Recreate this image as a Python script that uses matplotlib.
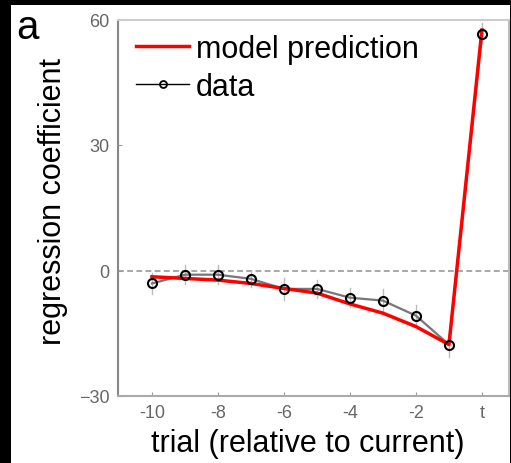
import matplotlib
matplotlib.use('Agg')
import matplotlib.pyplot as plt
from matplotlib.lines import Line2D
from matplotlib.patches import Rectangle

plt.rcParams['font.family'] = ['Liberation Sans', 'DejaVu Sans']

# trials relative to current (0 = current trial "t")
trials = [-10, -9, -8, -7, -6, -5, -4, -3, -2, -1, 0]
data_coef = [-3.1, -1.0, -1.0, -2.0, -4.4, -4.4, -6.5, -7.2, -10.8, -17.7, 56.6]
data_err = [2.5, 2.3, 2.3, 2.0, 2.6, 2.2, 2.2, 2.8, 2.5, 3.0, 2.5]
model_coef = [-1.5, -1.9, -2.3, -3.1, -4.3, -5.4, -8.0, -10.2, -13.4, -17.7, 57.5]

xtick_vals = [-10, -8, -6, -4, -2, 0]
xtick_labels = ['-10', '-8', '-6', '-4', '-2', 't']
ytick_vals = [-30, 0, 30, 60]

W, H = 511, 464
fig = plt.figure(figsize=(W / 100, H / 100), dpi=100, facecolor='black')
# white panel on the black background
fig.patches.append(Rectangle((11 / W, 0), 499 / W, 458 / H, transform=fig.transFigure,
                             facecolor='white', edgecolor='none', zorder=-10))

ax = fig.add_axes([118 / W, 1 - 397 / H, 391 / W, 376.5 / H])
ax.set_facecolor('white')

ax.axhline(0, color='#999999', lw=1.2, ls=(0, (3.5, 2)), zorder=1)

# error bars
for x, y, e in zip(trials, data_coef, data_err):
    ax.plot([x, x], [y - e, y + e], color='#bbbbbb', lw=1, zorder=2)

ax.plot(trials, data_coef, color='#777777', lw=1.6, zorder=3)
ax.plot(trials, model_coef, color='#ff0000', lw=2.5, zorder=4)
ax.plot(trials, data_coef, ls='none', marker='o', ms=6.5, mfc='none', mec='black', mew=1.5, zorder=5)

ax.set_xlim(-11.03, 0.82)
ax.set_ylim(-30, 60)
ax.set_xticks(xtick_vals)
ax.set_xticklabels(xtick_labels)
ax.set_yticks(ytick_vals)
ax.tick_params(direction='in', length=3, width=0.8, colors='#999999', labelcolor='#666666',
               labelsize=13, pad=6, top=False, right=False)

ax.spines['left'].set_color('#888888')
ax.spines['bottom'].set_color('#aaaaaa')
ax.spines['top'].set_color('#cccccc')
ax.spines['right'].set_color('#bbbbbb')
for s in ax.spines.values():
    s.set_linewidth(1.5)

fig.text(53 / W, 1 - 202 / H, 'regression coefficient', rotation=90, fontsize=22,
         ha='center', va='center', color='black')
fig.text(308 / W, 1 - 444 / H, 'trial (relative to current)', fontsize=22,
         ha='center', va='center', color='black')
fig.text(27.5 / W, 1 - 28 / H, 'a', fontsize=29, ha='center', va='center', color='black')

handles = [Line2D([], [], color='#ff0000', lw=2.5),
           Line2D([], [], color='black', lw=1, marker='o', ms=5, mfc='none', mec='black', mew=1.3)]
ax.legend(handles, ['model prediction', 'data'], loc='upper left',
          bbox_to_anchor=(136 / W, 1 - 35 / H), bbox_transform=fig.transFigure,
          frameon=False, fontsize=22, handlelength=1.75, handletextpad=0.2,
          borderpad=0, borderaxespad=0, labelspacing=0.25)

fig.savefig('out.png', dpi=100, facecolor='black')
